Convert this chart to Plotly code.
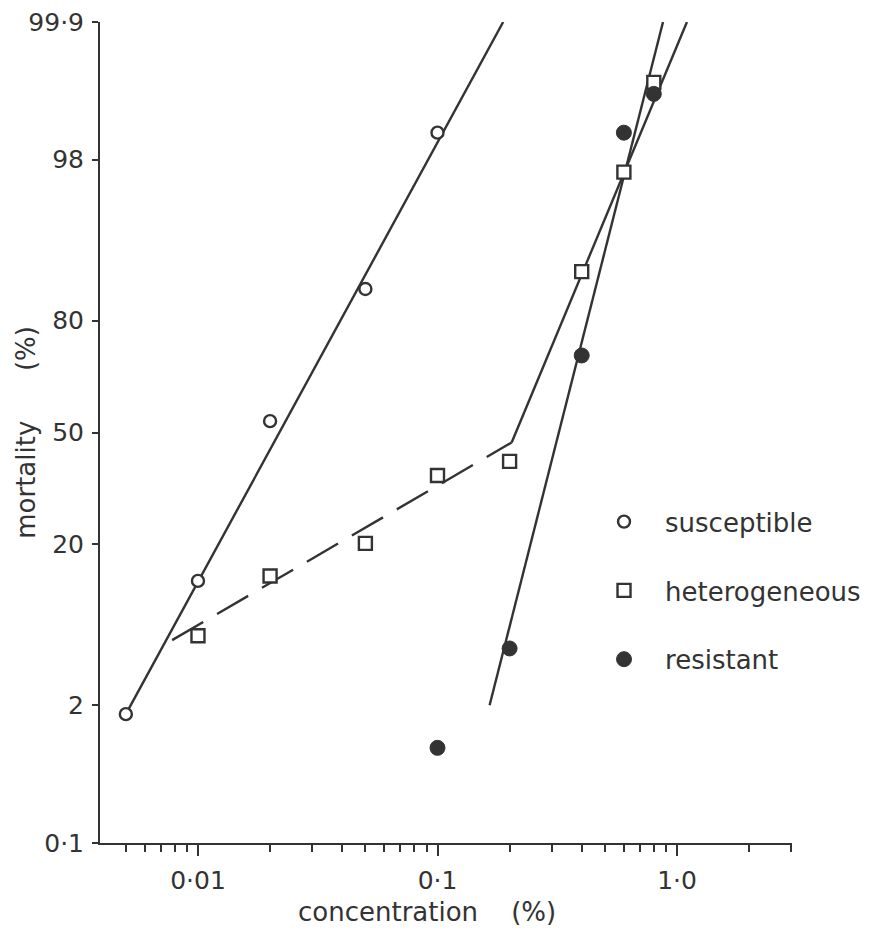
import plotly.graph_objects as go
from statistics import NormalDist

_nd = NormalDist()


def probit(p):
    return _nd.inv_cdf(p / 100.0)


# ---- data (concentration %, mortality %) ----
sus_conc = [0.005, 0.01, 0.02, 0.05, 0.1]
sus_mort = [1.7, 13.2, 53.4, 86.0, 98.8]

het_conc = [0.01, 0.02, 0.05, 0.1, 0.2, 0.4, 0.6, 0.8]
het_mort = [6.3, 14.0, 20.2, 37.3, 41.4, 88.7, 97.5, 99.58]

res_conc = [0.1, 0.2, 0.4, 0.6, 0.8]
res_mort = [0.88, 5.2, 71.9, 98.8, 99.46]

# fitted lines (end points)
sus_fit_conc = [0.005, 0.188]
sus_fit_mort = [1.7, 99.9]
het_low_conc = [0.0078, 0.204]
het_low_mort = [5.9, 47.0]
het_up_conc = [0.204, 1.10]
het_up_mort = [47.0, 99.9]
res_fit_conc = [0.165, 0.874]
res_fit_mort = [2.0, 99.9]

# ---- axes ----
y_tick_vals = [0.1, 2, 20, 50, 80, 98, 99.9]
y_tick_text = ["0·1", "2", "20", "50", "80", "98", "99·9"]
x_tick_vals = [0.01, 0.1, 1.0]
x_tick_text = ["0·01", "0·1", "1·0"]
x_minor_vals = [0.005, 0.006, 0.007, 0.008, 0.009,
                0.02, 0.03, 0.04, 0.05, 0.06, 0.07, 0.08, 0.09,
                0.2, 0.3, 0.4, 0.5, 0.6, 0.7, 0.8, 0.9,
                2.0, 3.0]

INK = "#333333"
FONT = "DejaVu Sans"


def pz(vals):
    return [probit(v) for v in vals]


fig = go.Figure()

line_style = dict(color=INK, width=2.4)
fig.add_trace(go.Scatter(x=sus_fit_conc, y=pz(sus_fit_mort), mode="lines",
                         line=line_style, showlegend=False, hoverinfo="skip"))
fig.add_trace(go.Scatter(x=het_low_conc, y=pz(het_low_mort), mode="lines",
                         line=dict(color=INK, width=2.4, dash="36px,16px"),
                         showlegend=False, hoverinfo="skip"))
fig.add_trace(go.Scatter(x=het_up_conc, y=pz(het_up_mort), mode="lines",
                         line=line_style, showlegend=False, hoverinfo="skip"))
fig.add_trace(go.Scatter(x=res_fit_conc, y=pz(res_fit_mort), mode="lines",
                         line=line_style, showlegend=False, hoverinfo="skip"))

fig.add_trace(go.Scatter(
    x=sus_conc, y=pz(sus_mort), mode="markers", name="susceptible",
    legendgroup="s",
    marker=dict(symbol="circle", size=12, color="white",
                line=dict(color=INK, width=2.4))))
fig.add_trace(go.Scatter(
    x=het_conc, y=pz(het_mort), mode="markers", name="heterogeneous",
    legendgroup="h",
    marker=dict(symbol="square", size=13, color="white",
                line=dict(color=INK, width=2.4))))
fig.add_trace(go.Scatter(
    x=res_conc, y=pz(res_mort), mode="markers", name="resistant",
    legendgroup="r",
    marker=dict(symbol="circle", size=15, color=INK,
                line=dict(color=INK, width=1))))

L, R, T, B = 100, 81, 22, 98
fig.update_layout(
    width=873, height=941,
    margin=dict(l=L, r=R, t=T, b=B, autoexpand=False),
    paper_bgcolor="white", plot_bgcolor="white",
    font=dict(family=FONT, size=25, color=INK),
    showlegend=True,
    legend=dict(x=0.698, y=0.420, xanchor="left", yanchor="top",
                font=dict(family=FONT, size=26, color=INK),
                tracegroupgap=32, itemwidth=72,
                bgcolor="rgba(0,0,0,0)",
                itemclick=False, itemdoubleclick=False),
    xaxis=dict(type="log", range=[-2.409, 0.480], automargin=False,
               showgrid=False, zeroline=False,
               showline=True, linecolor=INK, linewidth=2,
               ticks="outside", ticklen=11, tickwidth=2, tickcolor=INK,
               tickmode="array", tickvals=x_tick_vals, ticktext=x_tick_text,
               ticklabelstandoff=3,
               tickfont=dict(family=FONT, size=25, color=INK),
               minor=dict(tickmode="array", tickvals=x_minor_vals,
                          ticks="outside", ticklen=7, tickwidth=2,
                          tickcolor=INK, showgrid=False)),
    yaxis=dict(range=[probit(0.1), probit(99.9)], automargin=False,
               showgrid=False, zeroline=False,
               showline=True, linecolor=INK, linewidth=2,
               ticks="outside", ticklen=6, tickwidth=2, tickcolor=INK,
               tickmode="array", tickvals=pz(y_tick_vals), ticktext=y_tick_text,
               ticklabelstandoff=3,
               tickfont=dict(family=FONT, size=25, color=INK)),
    annotations=[
        dict(text="concentration" + "\u00a0" * 4 + "(%)",
             xref="paper", yref="paper", x=0.473, y=-0.084,
             xanchor="center", yanchor="middle", showarrow=False,
             font=dict(family=FONT, size=26, color=INK)),
        dict(text="mortality" + "\u00a0" * 6 + "(%)",
             xref="paper", yref="paper", x=-0.108, y=0.5,
             textangle=-90, xanchor="center", yanchor="middle",
             showarrow=False,
             font=dict(family=FONT, size=26, color=INK)),
    ],
)

fig.write_html(
    "out.html",
    config={"displayModeBar": False, "staticPlot": False},
    post_script="document.body.style.margin='0';document.body.style.overflow='hidden';",
)
